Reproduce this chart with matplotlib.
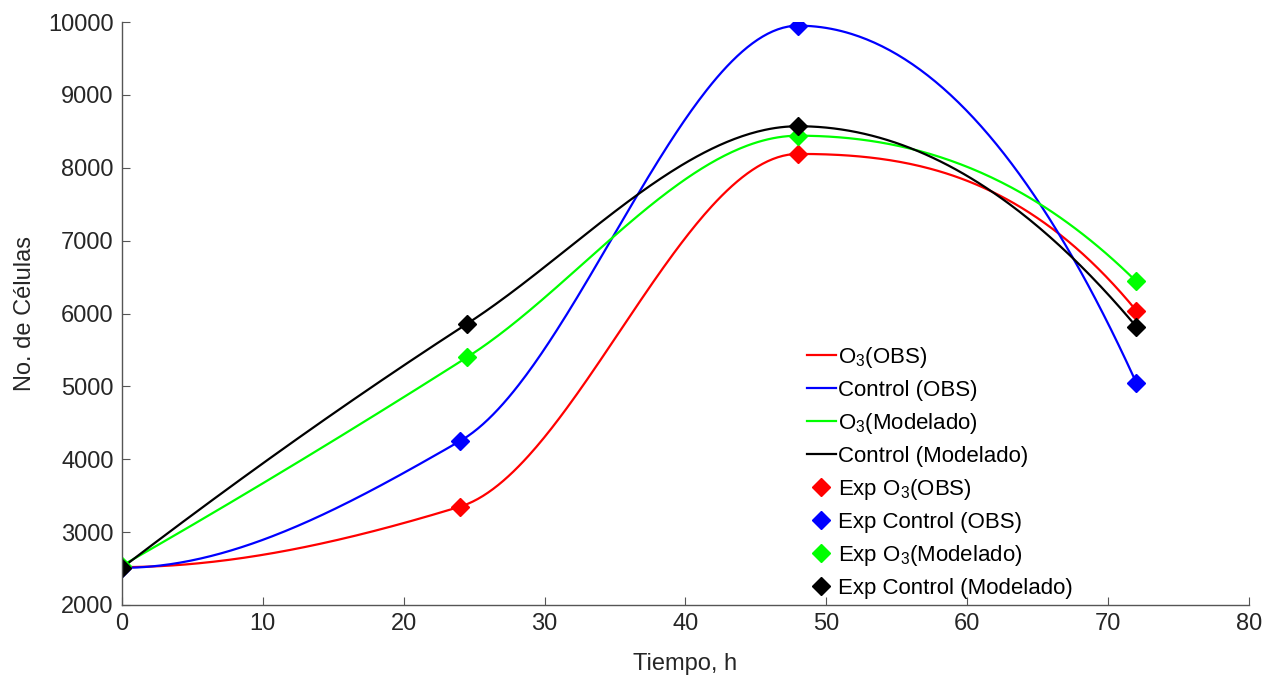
import numpy as np
import matplotlib
matplotlib.use("Agg")
import matplotlib.pyplot as plt

plt.rcParams['font.family'] = ['Liberation Sans', 'DejaVu Sans']
plt.rcParams['mathtext.default'] = 'regular'

# data
t_obs = [0, 24, 48, 72]
t_mod = [0, 24.5, 48, 72]
o3_obs = [2520, 3350, 8190, 6040]
ctrl_obs = [2510, 4250, 9950, 5050]
o3_mod = [2540, 5400, 8440, 6440]
ctrl_mod = [2510, 5860, 8570, 5820]


def pchip(x, y, xn):
    # shape preserving cubic (same idea as MATLAB pchip)
    x = np.asarray(x, float); y = np.asarray(y, float)
    h = np.diff(x); d = np.diff(y) / h
    n = len(x)
    m = np.zeros(n)
    for k in range(1, n - 1):
        if d[k-1] * d[k] > 0:
            w1 = 2*h[k] + h[k-1]
            w2 = h[k] + 2*h[k-1]
            m[k] = (w1 + w2) / (w1/d[k-1] + w2/d[k])
    def end(h0, h1, d0, d1):
        s = ((2*h0 + h1)*d0 - h0*d1) / (h0 + h1)
        if np.sign(s) != np.sign(d0):
            s = 0.0
        elif np.sign(d0) != np.sign(d1) and abs(s) > abs(3*d0):
            s = 3*d0
        return s
    m[0] = end(h[0], h[1], d[0], d[1])
    m[-1] = end(h[-1], h[-2], d[-1], d[-2])
    out = np.empty_like(xn)
    idx = np.clip(np.searchsorted(x, xn) - 1, 0, n - 2)
    for i, xv in enumerate(xn):
        k = idx[i]
        s = (xv - x[k]) / h[k]
        h00 = 2*s**3 - 3*s**2 + 1
        h10 = s**3 - 2*s**2 + s
        h01 = -2*s**3 + 3*s**2
        h11 = s**3 - s**2
        out[i] = h00*y[k] + h10*h[k]*m[k] + h01*y[k+1] + h11*h[k]*m[k+1]
    return out


fig = plt.figure(figsize=(12.68, 6.8), dpi=100)
ax = fig.add_axes([0.0962, 0.1103, 0.8888, 0.8573])

xs = np.linspace(0, 72, 400)
ax.plot(xs, pchip(t_obs, o3_obs, xs), color='#ff0000', lw=1.6, label='O$_3$(OBS)')
ax.plot(xs, pchip(t_obs, ctrl_obs, xs), color='#0000ff', lw=1.6, label='Control (OBS)')
ax.plot(xs, pchip(t_mod, o3_mod, xs), color='#00ff00', lw=1.6, label='O$_3$(Modelado)')
ax.plot(xs, pchip(t_mod, ctrl_mod, xs), color='black', lw=1.6, label='Control (Modelado)')

ax.plot(t_obs, o3_obs, 'D', color='#ff0000', ms=9, ls='none', label='Exp O$_3$(OBS)')
ax.plot(t_obs, ctrl_obs, 'D', color='#0000ff', ms=9, ls='none', label='Exp Control (OBS)')
ax.plot(t_mod, o3_mod, 'D', color='#00ff00', ms=9, ls='none', label='Exp O$_3$(Modelado)')
ax.plot(t_mod, ctrl_mod, 'D', color='black', ms=9, ls='none', label='Exp Control (Modelado)')

ax.set_xlim(0, 80)
ax.set_ylim(2000, 10000)
ax.set_xticks(np.arange(0, 81, 10))
ax.set_yticks(np.arange(2000, 10001, 1000))
for s in ['top', 'right']:
    ax.spines[s].set_visible(False)
for s in ['left', 'bottom']:
    ax.spines[s].set_color('#555555')
    ax.spines[s].set_linewidth(1.0)
ax.tick_params(direction='in', length=6, colors='#555555', labelcolor='#262626',
               labelsize=17, pad=6)
ax.set_xlabel('Tiempo, h', fontsize=17, color='#262626', labelpad=13)
ax.set_ylabel('No. de Células', fontsize=17, color='#262626', labelpad=9)

ax.legend(loc='upper left', bbox_to_anchor=(0.6075, 0.446), frameon=False, fontsize=16,
          handlelength=1.3, handletextpad=0.12, labelspacing=0.45, borderaxespad=0,
          borderpad=0)

fig.savefig('out.png', dpi=100)
